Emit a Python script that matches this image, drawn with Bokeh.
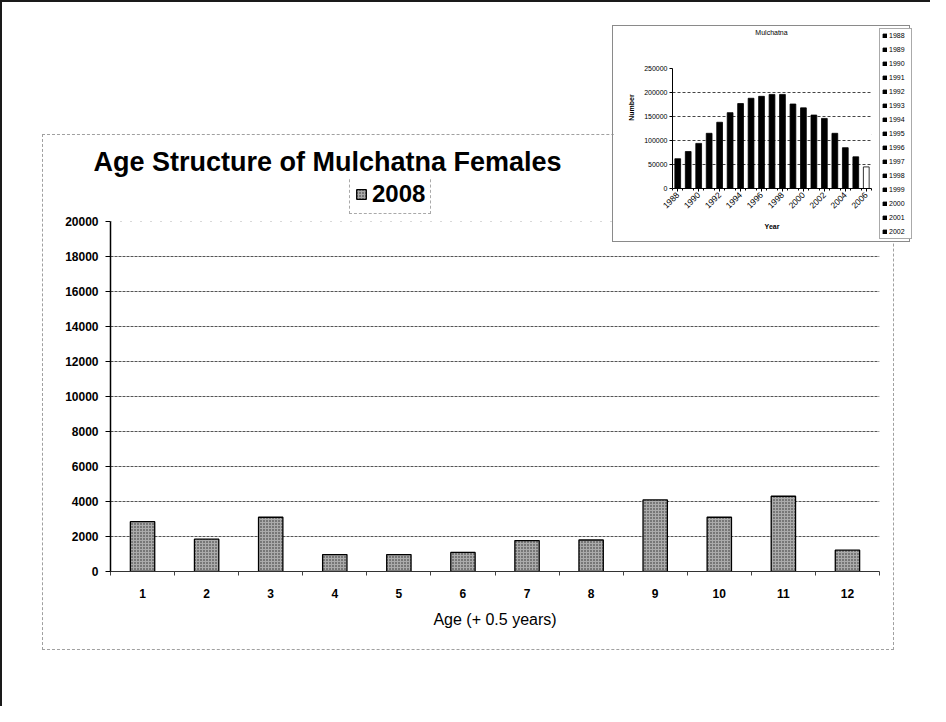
import math
from bokeh.plotting import figure
from bokeh.models import (Range1d, FixedTicker, Legend, LegendItem, GridBox, Grid,
                          Title, Label, NumeralTickFormatter)
from bokeh.embed import file_html
from bokeh.resources import INLINE

# ---------------- data ----------------
ages = [1, 2, 3, 4, 5, 6, 7, 8, 9, 10, 11, 12]
females_2008 = [2850, 1850, 3100, 970, 970, 1090, 1770, 1800, 4090, 3100, 4300, 1220]
main_y_ticks = [0, 2000, 4000, 6000, 8000, 10000, 12000, 14000, 16000, 18000, 20000]

herd_years = [1988, 1989, 1990, 1991, 1992, 1993, 1994, 1995, 1996, 1997,
              1998, 1999, 2000, 2001, 2002, 2003, 2004, 2005, 2006]
herd_size = [62000, 77000, 94000, 115000, 138000, 158000, 177000, 188000, 192000, 196000,
             196000, 176000, 168000, 153000, 146000, 115000, 85000, 66000, 45000]
inset_y_ticks = [0, 50000, 100000, 150000, 200000, 250000]
inset_x_ticks = [1988, 1990, 1992, 1994, 1996, 1998, 2000, 2002, 2004, 2006]
legend_years_shown = [1988, 1989, 1990, 1991, 1992, 1993, 1994, 1995, 1996, 1997,
                      1998, 1999, 2000, 2001, 2002]

FONT = "Liberation Sans"
BAR_STYLE = dict(fill_color="#ababab", line_color="black", line_width=1.3,
                 hatch_pattern="dot", hatch_color="#262626", hatch_scale=3, hatch_weight=1)

# ---------------- main chart ----------------
# the frame reaches above the 20000 line so that the legend box sits inside it
MAIN_FRAME_H, MAIN_AXIS_H = 394, 350
main = figure(width=852, height=516,
              x_range=Range1d(ages[0] - 0.5, ages[-1] + 0.5),
              y_range=Range1d(main_y_ticks[0], main_y_ticks[-1] * MAIN_FRAME_H / MAIN_AXIS_H),
              output_backend="svg", toolbar_location=None,
              min_border_left=67, min_border_right=16, min_border_top=42, min_border_bottom=80,
              background_fill_color="white", border_fill_color="white",
              outline_line_color=None,
              styles={"border": "1px dashed #a0a0a0"})

main.title = Title(text="Age Structure of Mulchatna Females", align="left", offset=-17,
                   text_font=FONT, text_font_size="27px", text_font_style="bold",
                   text_color="black", standoff=2)

bars = main.vbar(x=ages, top=females_2008, width=0.38, **BAR_STYLE)

legend = Legend(items=[LegendItem(label="2008", renderers=[bars])],
                location=(239, 357), orientation="horizontal",
                border_line_color="#555555", border_line_dash="2 1", border_line_width=1,
                background_fill_color="white", background_fill_alpha=1,
                label_text_font=FONT, label_text_font_size="24px", label_text_font_style="bold",
                label_text_color="black",
                glyph_width=12, glyph_height=12, label_standoff=5, padding=5,
                label_height=25, margin=0)
main.add_layout(legend, "center")

minor_bounds = [a - 0.5 for a in ages] + [ages[-1] + 0.5]
main.xaxis.ticker = FixedTicker(ticks=ages, minor_ticks=minor_bounds)
main.xaxis.major_tick_out = 0
main.xaxis.major_tick_in = 0
main.xaxis.minor_tick_out = 4
main.xaxis.minor_tick_in = 0
main.xaxis.minor_tick_line_color = "#444444"
main.xaxis.axis_line_color = "#333333"
main.xaxis.major_label_text_font = FONT
main.xaxis.major_label_text_font_size = "12px"
main.xaxis.major_label_text_font_style = "bold"
main.xaxis.major_label_text_color = "black"
main.xaxis.major_label_standoff = 13
main.xaxis.axis_label = "Age (+ 0.5 years)"
main.xaxis.axis_label_text_font = FONT
main.xaxis.axis_label_text_font_size = "16px"
main.xaxis.axis_label_text_font_style = "normal"
main.xaxis.axis_label_text_color = "black"
main.xaxis.axis_label_standoff = 10

main.yaxis.ticker = FixedTicker(ticks=main_y_ticks)
main.yaxis.bounds = (main_y_ticks[0], main_y_ticks[-1])
main.yaxis.formatter = NumeralTickFormatter(format="0")
main.yaxis.major_tick_out = 5
main.yaxis.major_tick_in = 0
main.yaxis.minor_tick_out = 0
main.yaxis.axis_line_color = "black"
main.yaxis.axis_line_width = 1.5
main.yaxis.major_label_text_font = FONT
main.yaxis.major_label_text_font_size = "12px"
main.yaxis.major_label_text_font_style = "bold"
main.yaxis.major_label_text_color = "black"
main.yaxis.major_label_standoff = 7

main.xgrid.visible = False
main.ygrid.ticker = FixedTicker(ticks=main_y_ticks[1:-1])
main.ygrid.grid_line_color = "#555555"
main.ygrid.grid_line_dash = "3 1"
main.ygrid.grid_line_width = 1
top_grid = Grid(dimension=1, ticker=FixedTicker(ticks=[main_y_ticks[-1]]),
                grid_line_color="#b0b0b0", grid_line_dash="1 9")
main.add_layout(top_grid)

# ---------------- inset chart ----------------
INSET_FRAME_H, INSET_AXIS_H = 162, 120
inset = figure(width=298, height=217,
               x_range=Range1d(herd_years[0] - 0.5, herd_years[-1] + 0.5),
               y_range=Range1d(inset_y_ticks[0], inset_y_ticks[-1] * INSET_FRAME_H / INSET_AXIS_H),
               output_backend="svg", toolbar_location=None, title_location=None,
               min_border_left=59, min_border_right=40, min_border_top=0, min_border_bottom=55,
               background_fill_color="white", border_fill_color="white",
               outline_line_color=None,
               styles={"border": "1px solid #8a8a8a"})

inset.add_layout(Label(x=99, y=156, x_units="screen", y_units="screen", text="Mulchatna",
                       text_font=FONT, text_font_size="7px", text_color="black",
                       text_align="center", text_baseline="middle"))

inset_colors = ["black"] * (len(herd_years) - 1) + ["white"]
ibars = inset.vbar(x=herd_years, top=herd_size, width=0.55,
                   fill_color=inset_colors, line_color="black", line_width=0.8)

ibounds = [y - 0.5 for y in herd_years] + [herd_years[-1] + 0.5]
inset.xaxis.ticker = FixedTicker(ticks=inset_x_ticks, minor_ticks=ibounds)
inset.xaxis.formatter = NumeralTickFormatter(format="0")
inset.xaxis.major_label_orientation = math.pi / 4
inset.xaxis.major_tick_out = 3
inset.xaxis.major_tick_in = 0
inset.xaxis.minor_tick_out = 2
inset.xaxis.minor_tick_in = 0
inset.xaxis.axis_line_color = "black"
inset.xaxis.major_label_text_font = FONT
inset.xaxis.major_label_text_font_size = "8.5px"
inset.xaxis.major_label_text_color = "black"
inset.xaxis.major_label_standoff = 2
inset.xaxis.axis_label = "Year"
inset.xaxis.axis_label_text_font = FONT
inset.xaxis.axis_label_text_font_size = "7px"
inset.xaxis.axis_label_text_font_style = "bold"
inset.xaxis.axis_label_text_color = "black"
inset.xaxis.axis_label_standoff = 9

inset.yaxis.ticker = FixedTicker(ticks=inset_y_ticks)
inset.yaxis.bounds = (inset_y_ticks[0], inset_y_ticks[-1])
inset.yaxis.formatter = NumeralTickFormatter(format="0")
inset.yaxis.major_tick_out = 3
inset.yaxis.major_tick_in = 0
inset.yaxis.minor_tick_out = 0
inset.yaxis.axis_line_color = "black"
inset.yaxis.major_label_text_font = FONT
inset.yaxis.major_label_text_font_size = "7px"
inset.yaxis.major_label_text_color = "black"
inset.yaxis.major_label_standoff = 2
inset.yaxis.axis_label = "Number"
inset.yaxis.axis_label_text_font = FONT
inset.yaxis.axis_label_text_font_size = "7px"
inset.yaxis.axis_label_text_font_style = "bold"
inset.yaxis.axis_label_text_color = "black"
inset.yaxis.axis_label_standoff = 6

inset.xgrid.visible = False
inset.ygrid.ticker = FixedTicker(ticks=inset_y_ticks[1:-1])
inset.ygrid.grid_line_color = "#444444"
inset.ygrid.grid_line_dash = "3 2"

# ---------------- inset legend (one entry per year series) ----------------
ileg_fig = figure(width=48, height=214, x_axis_type=None, y_axis_type=None,
                  output_backend="svg", toolbar_location=None, title_location=None,
                  min_border=0, min_border_left=0, min_border_right=0,
                  min_border_top=0, min_border_bottom=0,
                  background_fill_alpha=0, border_fill_alpha=0,
                  outline_line_color=None)
ileg_fig.xgrid.visible = False
ileg_fig.ygrid.visible = False
leg_bars = ileg_fig.vbar(x=herd_years, top=herd_size, width=0.55,
                         fill_color=inset_colors, line_color="black", line_width=0.8,
                         visible=False)
ileg = Legend(items=[LegendItem(label=str(y), renderers=[leg_bars], index=herd_years.index(y))
                     for y in legend_years_shown],
              location="top_left", orientation="vertical",
              border_line_color="#555555", border_line_width=1,
              background_fill_color="white", background_fill_alpha=1,
              label_text_font=FONT, label_text_font_size="7px", label_text_color="black",
              glyph_width=5, glyph_height=5, label_standoff=2, padding=2,
              label_height=9, spacing=5, margin=0)
ileg_fig.add_layout(ileg, "center")

# ---------------- page layout (inset overlaps main chart) ----------------
page = GridBox(children=[(main, 3, 1, 3, 3), (inset, 1, 2, 4, 3), (ileg_fig, 2, 3, 2, 3)],
               rows=["23px", "3px", "106px", "108px", "2px", "406px", "56px"],
               cols=["40px", "570px", "267px", "15px", "16px", "17px", "3px"],
               styles={"border-top": "2px solid #1a1a1a", "border-left": "2px solid #1a1a1a"})

open("out.html", "w").write(file_html(page, INLINE))
